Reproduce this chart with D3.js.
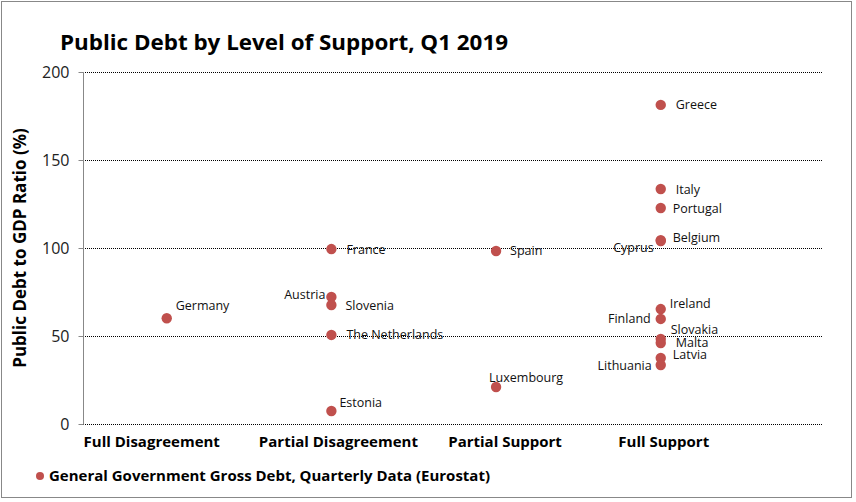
<!DOCTYPE html>
<html><head><meta charset="utf-8">
<script src="https://cdn.jsdelivr.net/npm/d3@7"></script>
<style>body{margin:0;background:#fff}</style>
</head><body>
<script>
const categories = ["Full Disagreement","Partial Disagreement","Partial Support","Full Support"];
const countries = ["Germany","France","Austria","Slovenia","The Netherlands","Estonia","Spain","Luxembourg","Greece","Italy","Portugal","Belgium","Cyprus","Ireland","Finland","Slovakia","Malta","Latvia","Lithuania"];
const countryCategory = [0,1,1,1,1,1,2,2,3,3,3,3,3,3,3,3,3,3,3];
const debtRatio = [60.1,99.4,72.2,67.6,50.6,7.4,98.3,21.0,181.3,133.5,122.7,104.5,104.0,65.3,59.7,48.3,46.0,37.5,33.5];
const yTicks = [0,50,100,150,200];
const seriesName = "General Government Gross Debt, Quarterly Data (Eurostat)";

// label placement (pixel offsets from point, anchor)
const labelPlace = {
  "Germany":[9,-13,"start"],"France":[15,0,"start"],"Austria":[-6,-2,"end"],"Slovenia":[14,0,"start"],
  "The Netherlands":[15,0,"start"],"Estonia":[8,-8,"start"],"Spain":[14,0,"start"],"Luxembourg":[-7,-10,"start"],
  "Greece":[15,0,"start"],"Italy":[15,0,"start"],"Portugal":[12,0,"start"],"Belgium":[12,-3,"start"],
  "Cyprus":[-7,7,"end"],"Ireland":[9,-6,"start"],"Finland":[-10,0,"end"],"Slovakia":[10,-9,"start"],
  "Malta":[15,-1,"start"],"Latvia":[12,-4,"start"],"Lithuania":[-9,0,"end"]
};
const catLabelDx = [-15,7,9,3];

const W=856,H=502;
const svg=d3.select("body").append("svg").attr("width",W).attr("height",H);
svg.append("rect").attr("x",1.5).attr("y",1.5).attr("width",850).attr("height",496)
  .attr("fill","#fff").attr("stroke","#888").attr("stroke-width",1);

const x=d3.scaleLinear().domain([0,4.5]).range([84.4,825.4]);
const y=d3.scaleLinear().domain([0,200]).range([424,72]);

svg.append("text").attr("x",60).attr("y",50).attr("font-family","Open Sans")
  .attr("font-weight","bold").attr("font-size",21).attr("fill","#000")
  .attr("textLength",448).attr("lengthAdjust","spacingAndGlyphs")
  .text("Public Debt by Level of Support, Q1 2019");

// grid
svg.append("g").selectAll("line").data(yTicks).join("line")
  .attr("x1",83).attr("x2",823).attr("y1",d=>Math.round(y(d))+0.5).attr("y2",d=>Math.round(y(d))+0.5)
  .attr("stroke","#000").attr("stroke-width",1).attr("stroke-dasharray","1,1");

const ax=svg.append("g").attr("transform","translate(83.5,0)").call(d3.axisLeft(y).tickValues(yTicks).tickSize(5).tickPadding(9));
ax.select(".domain").attr("stroke","#888").attr("d","M0,"+y(200)+"V"+(y(0)+0.5));
ax.selectAll(".tick line").attr("stroke","#888");
ax.selectAll(".tick text").attr("font-family","Open Sans").attr("font-size",16).attr("fill","#222");

svg.append("text").attr("transform","translate(26,248) rotate(-90)").attr("text-anchor","middle")
  .attr("font-family","Open Sans").attr("font-weight","bold").attr("font-size",17).attr("fill","#000")
  .text("Public Debt to GDP Ratio (%)");

svg.append("g").selectAll("text").data(categories).join("text")
  .attr("x",(d,i)=>x(i+0.5)+catLabelDx[i]).attr("y",447).attr("text-anchor","middle")
  .attr("font-family","Open Sans").attr("font-weight","bold").attr("font-size",15).attr("fill","#000")
  .text(d=>d);

const pts=countries.map((c,i)=>({c,x:countryCategory[i]+0.5,v:debtRatio[i]}));
svg.append("g").selectAll("circle").data(pts).join("circle")
  .attr("cx",d=>x(d.x)).attr("cy",d=>y(d.v)).attr("r",5.2).attr("fill","#c0504d");

svg.append("g").selectAll("text").data(pts).join("text")
  .attr("x",d=>x(d.x)+labelPlace[d.c][0]).attr("y",d=>y(d.v)+labelPlace[d.c][1]+4.5)
  .attr("text-anchor",d=>labelPlace[d.c][2])
  .attr("font-family","Open Sans").attr("font-size",12.5).attr("fill","#111").text(d=>d.c);

svg.append("circle").attr("cx",40).attr("cy",476).attr("r",4).attr("fill","#c0504d");
svg.append("text").attr("x",49).attr("y",481).attr("font-family","Open Sans").attr("font-weight","bold")
  .attr("font-size",14).attr("fill","#000").attr("textLength",441).attr("lengthAdjust","spacingAndGlyphs").text(seriesName);
</script>
</body></html>
